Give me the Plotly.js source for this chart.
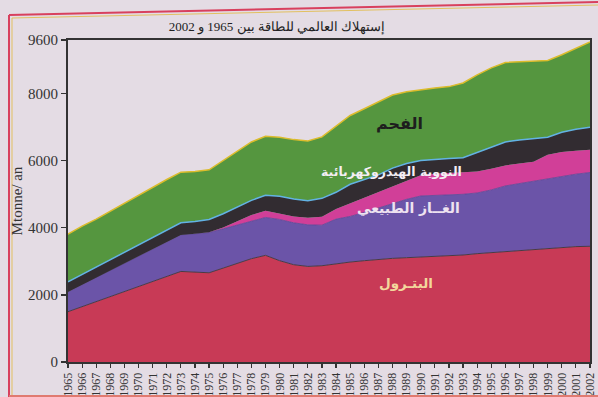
<!DOCTYPE html>
<html>
<head>
<meta charset="utf-8">
<script src="https://cdn.plot.ly/plotly-3.0.1.min.js"></script>
<style>
  html, body { margin: 0; padding: 0; background: #e4dce4; }
  #chart { width: 598px; height: 397px; }
</style>
</head>
<body>
<div id="chart"></div>
<script>
// Years (x categories)
const years = [1965,1966,1967,1968,1969,1970,1971,1972,1973,1974,1975,1976,1977,1978,1979,1980,1981,1982,1983,1984,1985,1986,1987,1988,1989,1990,1991,1992,1993,1994,1995,1996,1997,1998,1999,2000,2001,2002];

// Series values (Mtonne / an), stacked bottom to top
const oil     = [1500,1650,1800,1950,2090,2240,2380,2530,2700,2680,2660,2800,2950,3080,3180,3020,2900,2850,2870,2930,2980,3020,3060,3090,3110,3130,3140,3150,3190,3230,3260,3300,3330,3370,3400,3420,3440,3450];
const gas     = [590,650,710,770,840,900,980,1040,1090,1140,1200,1170,1140,1130,1130,1230,1250,1240,1210,1330,1360,1440,1530,1630,1740,1820,1820,1820,1810,1810,1870,1950,1990,2030,2070,2120,2160,2200];
const nuclear = [0,0,0,0,0,0,0,0,0,0,10,40,110,170,200,170,190,210,250,300,390,440,470,520,570,620,650,670,660,640,630,610,600,570,710,720,700,680];
const hydro   = [300,310,320,330,340,350,350,360,360,370,380,410,420,440,460,520,520,510,550,500,570,530,520,540,500,440,440,430,430,570,660,700,700,690,520,590,640,670];
const coal    = [1420,1440,1430,1450,1470,1490,1500,1510,1510,1490,1480,1580,1650,1740,1760,1760,1770,1780,1830,1960,2050,2120,2180,2180,2140,2110,2120,2140,2230,2310,2350,2370,2330,2310,2290,2310,2410,2540];

// Tick labels
const yTickVals = [0,2000,4000,6000,8000,9600];
const yTickText = ['0','2000','4000','6000','8000','9600'];
const xTickText = years.map(String);

const titleText = 'إستهلاك العالمي للطاقة بين 1965 و 2002';
const yTitle = 'Mtonne/ an';
const labels = {
  coal: 'الفحم',
  nuclearHydro: 'النووية الهيدروكهربائية',
  gas: 'الغــاز الطبيعي',
  oil: 'البتـرول'
};

// pixel helpers for layout placement (plot area)
const L = 68, R = 590, T = 40, B = 362;
const px = x => (x - L) / (R - L);
const py = y => (B - y) / (B - T);

const serif = 'Liberation Serif, DejaVu Serif, serif';

function layer(name, y, fillcolor, lineColor, lineWidth) {
  return {
    type: 'scatter', mode: 'lines', name: name,
    x: years, y: y, stackgroup: 'one',
    fillcolor: fillcolor,
    line: { color: lineColor, width: lineWidth, shape: 'linear' },
    hoverinfo: 'skip'
  };
}

const data = [
  layer('oil', oil, '#c83a56', '#4a3a44', 1),
  layer('gas', gas, '#6b54a8', '#5a4696', 0.8),
  layer('nuclear', nuclear, '#d13f98', '#d13f98', 0),
  layer('hydro', hydro, '#322c31', '#62b2e4', 1.5),
  layer('coal', coal, '#55963f', '#dcbc2c', 1.5)
];

const layout = {
  width: 598, height: 397,
  paper_bgcolor: '#e4dce4',
  plot_bgcolor: '#e4dce4',
  showlegend: false,
  margin: { l: L, r: 598 - R, t: T, b: 397 - B, pad: 0 },
  title: {
    text: titleText,
    font: { family: serif, size: 13, color: '#222' },
    xref: 'container', yref: 'container',
    x: 277 / 598, y: 1 - 26 / 397,
    xanchor: 'center', yanchor: 'middle'
  },
  xaxis: {
    type: 'linear',
    range: [1965, 2002],
    tickmode: 'array',
    tickvals: years,
    ticktext: xTickText,
    tickangle: -90,
    ticks: 'outside', ticklen: 4, tickwidth: 1.2, tickcolor: '#333',
    tickfont: { family: serif, size: 12, color: '#333' },
    showgrid: false, zeroline: false,
    showline: true, linecolor: '#333', linewidth: 2, mirror: true,
    automargin: false
  },
  yaxis: {
    range: [0, 9600],
    tickmode: 'array',
    tickvals: yTickVals,
    ticktext: yTickText,
    ticks: 'outside', ticklen: 5, tickwidth: 1.2, tickcolor: '#333',
    tickfont: { family: serif, size: 15, color: '#333' },
    showgrid: false, zeroline: false,
    showline: true, linecolor: '#333', linewidth: 2, mirror: true,
    title: { text: yTitle, font: { family: serif, size: 15, color: '#333' }, standoff: 2 },
    automargin: false
  },
  shapes: [
    // page border (red with yellow inner)
    { type: 'line', xref: 'paper', yref: 'paper', x0: px(9), y0: py(397), x1: px(9), y1: py(15), line: { color: '#d8405e', width: 2 } },
    { type: 'line', xref: 'paper', yref: 'paper', x0: px(12), y0: py(397), x1: px(12), y1: py(18), line: { color: '#e2c060', width: 1 } },
    { type: 'line', xref: 'paper', yref: 'paper', x0: px(9), y0: py(15), x1: px(598), y1: py(2), line: { color: '#d8405e', width: 2 } },
    { type: 'line', xref: 'paper', yref: 'paper', x0: px(12), y0: py(18), x1: px(598), y1: py(5), line: { color: '#e2c060', width: 1 } },
    { type: 'line', xref: 'paper', yref: 'paper', x0: px(9), y0: py(396), x1: px(598), y1: py(396), line: { color: '#e07a70', width: 2 } }
  ],
  annotations: [
    { text: '<b>' + labels.coal + '</b>', xref: 'paper', yref: 'paper', x: px(425), y: py(112), showarrow: false,
      font: { family: 'DejaVu Sans, sans-serif', size: 16, color: '#1e1e1e' } },
    { text: '<b>' + labels.nuclearHydro + '</b>', xref: 'paper', yref: 'paper', x: px(464), y: py(171), showarrow: false,
      font: { family: 'DejaVu Sans, sans-serif', size: 12.5, color: '#f4eef4' } },
    { text: '<b>' + labels.gas + '</b>', xref: 'paper', yref: 'paper', x: px(462), y: py(208), showarrow: false,
      font: { family: 'DejaVu Sans, sans-serif', size: 14, color: '#eee2f0' } },
    { text: '<b>' + labels.oil + '</b>', xref: 'paper', yref: 'paper', x: px(406), y: py(293), showarrow: false,
      font: { family: 'DejaVu Sans, sans-serif', size: 13.5, color: '#f3d79c' } }
  ]
};

Plotly.newPlot('chart', data, layout, { staticPlot: true, displayModeBar: false });
</script>
</body>
</html>
